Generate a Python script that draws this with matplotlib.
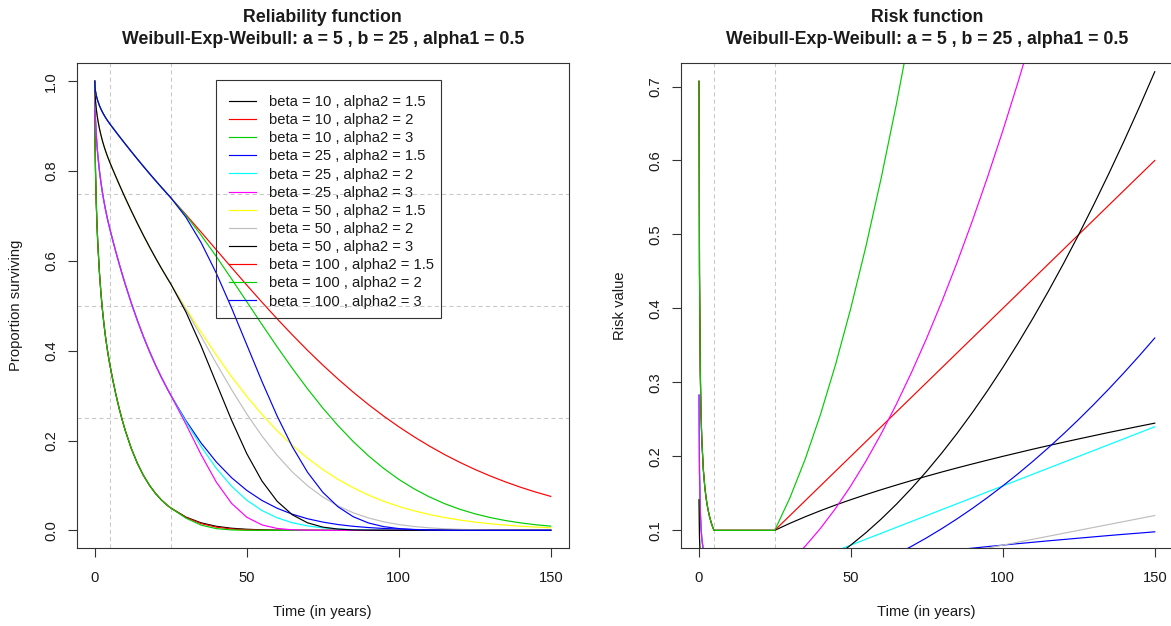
import matplotlib
matplotlib.use("Agg")
import matplotlib.pyplot as plt
from matplotlib.lines import Line2D
from matplotlib.patches import Rectangle

plt.rcParams['font.family'] = ['Liberation Sans', 'DejaVu Sans']

# ---------------------------------------------------------------- data
BETAS = [10, 25, 50, 100]
ALPHA2S = [1.5, 2, 3]
# R default palette (recycled after eight curves)
PALETTE = ["#000000", "#FF0000", "#00CD00", "#0000FF",
           "#00FFFF", "#FF00FF", "#FFFF00", "#BEBEBE"]

# time grids before b = 25 (shared by all alpha2 for a given beta)
T_SURV_EARLY = [0, 0.1, 0.25, 0.5, 0.75, 1, 1.5, 2, 2.5, 3, 3.5, 4, 4.5, 5,
                6, 7, 8, 9, 10, 12, 14, 16, 18, 20, 22, 24, 25]
T_RISK_EARLY = [0.1, 0.25, 0.5, 0.75, 1, 1.5, 2, 2.5, 3, 3.5, 4, 4.5, 5, 25]
# time grid from b = 25 on
T_LATE = [25, 30, 35, 40, 45, 50, 55, 60, 65, 70, 75, 80, 85, 90, 95, 100,
          105, 110, 115, 120, 125, 130, 135, 140, 145, 150]

# survival up to t = 25, one series per beta
SURV_EARLY = {
    10:  [1.0, 0.8681, 0.7996, 0.7289, 0.6789, 0.6394, 0.5783, 0.5313, 0.4931, 0.4609, 0.4332, 0.4088, 0.3873, 0.3679,
          0.3329, 0.3012, 0.2725, 0.2466, 0.2231, 0.1827, 0.1496, 0.1225, 0.1003, 0.0821, 0.0672, 0.0550, 0.0498],
    25:  [1.0, 0.9450, 0.9144, 0.8812, 0.8565, 0.8362, 0.8033, 0.7765, 0.7536, 0.7336, 0.7156, 0.6992, 0.6842, 0.6703,
          0.6440, 0.6188, 0.5945, 0.5712, 0.5488, 0.5066, 0.4677, 0.4317, 0.3985, 0.3679, 0.3396, 0.3135, 0.3012],
    50:  [1.0, 0.9721, 0.9563, 0.9387, 0.9255, 0.9144, 0.8962, 0.8812, 0.8681, 0.8565, 0.8459, 0.8362, 0.8272, 0.8187,
          0.8025, 0.7866, 0.7711, 0.7558, 0.7408, 0.7118, 0.6839, 0.6570, 0.6313, 0.6065, 0.5827, 0.5599, 0.5488],
    100: [1.0, 0.9860, 0.9779, 0.9689, 0.9620, 0.9563, 0.9467, 0.9387, 0.9317, 0.9255, 0.9197, 0.9144, 0.9095, 0.9048,
          0.8958, 0.8869, 0.8781, 0.8694, 0.8607, 0.8437, 0.8270, 0.8106, 0.7945, 0.7788, 0.7634, 0.7483, 0.7408],
}

# survival from t = 25 on, one series per (beta, alpha2)
SURV_LATE = {
    (10, 1.5):  [0.0498, 0.0295, 0.0167, 0.0090, 0.0047, 0.0024, 0.0012, 0.0005, 0.0002, 0.0001,
                 0, 0, 0, 0, 0, 0, 0, 0, 0, 0, 0, 0, 0, 0, 0, 0],
    (10, 2):    [0.0498, 0.0287, 0.0150, 0.0071, 0.0030, 0.0012, 0.0004, 0.0001,
                 0, 0, 0, 0, 0, 0, 0, 0, 0, 0, 0, 0, 0, 0, 0, 0, 0, 0],
    (10, 3):    [0.0498, 0.0271, 0.0116, 0.0038, 0.0009, 0.0001,
                 0, 0, 0, 0, 0, 0, 0, 0, 0, 0, 0, 0, 0, 0, 0, 0, 0, 0, 0, 0],
    (25, 1.5):  [0.3012, 0.2442, 0.1944, 0.1522, 0.1173, 0.0890, 0.0666, 0.0492, 0.0359, 0.0258, 0.0184, 0.0129, 0.0090,
                 0.0062, 0.0042, 0.0028, 0.0019, 0.0012, 0.0008, 0.0005, 0.0003, 0.0002, 0.0001, 0.0001, 0, 0],
    (25, 2):    [0.3012, 0.2417, 0.1864, 0.1381, 0.0983, 0.0672, 0.0442, 0.0279, 0.0169, 0.0099, 0.0055, 0.0030, 0.0015,
                 0.0008, 0.0004, 0.0002, 0.0001, 0, 0, 0, 0, 0, 0, 0, 0, 0],
    (25, 3):    [0.3012, 0.2363, 0.1684, 0.1073, 0.0602, 0.0292, 0.0121, 0.0042, 0.0012, 0.0003, 0.0001,
                 0, 0, 0, 0, 0, 0, 0, 0, 0, 0, 0, 0, 0, 0, 0],
    (50, 1.5):  [0.5488, 0.4942, 0.4410, 0.3901, 0.3424, 0.2984, 0.2581, 0.2218, 0.1894, 0.1607, 0.1355, 0.1136, 0.0948,
                 0.0786, 0.0648, 0.0532, 0.0435, 0.0353, 0.0286, 0.0230, 0.0184, 0.0147, 0.0117, 0.0092, 0.0073, 0.0057],
    (50, 2):    [0.5488, 0.4916, 0.4317, 0.3716, 0.3135, 0.2592, 0.2101, 0.1670, 0.1300, 0.0993, 0.0743, 0.0545, 0.0392,
                 0.0276, 0.0191, 0.0129, 0.0086, 0.0056, 0.0036, 0.0022, 0.0014, 0.0008, 0.0005, 0.0003, 0.0002, 0.0001],
    (50, 3):    [0.5488, 0.4861, 0.4104, 0.3276, 0.2453, 0.1709, 0.1099, 0.0647, 0.0346, 0.0167, 0.0072, 0.0028, 0.0009,
                 0.0003, 0.0001, 0, 0, 0, 0, 0, 0, 0, 0, 0, 0, 0],
    (100, 1.5): [0.7408, 0.7030, 0.6640, 0.6246, 0.5852, 0.5462, 0.5081, 0.4710, 0.4352, 0.4008, 0.3681, 0.3371, 0.3078,
                 0.2803, 0.2546, 0.2307, 0.2085, 0.1880, 0.1690, 0.1517, 0.1358, 0.1213, 0.1081, 0.0961, 0.0853, 0.0756],
    (100, 2):   [0.7408, 0.7012, 0.6571, 0.6096, 0.5599, 0.5092, 0.4584, 0.4086, 0.3606, 0.3151, 0.2725, 0.2334, 0.1979,
                 0.1661, 0.1381, 0.1136, 0.0926, 0.0747, 0.0596, 0.0471, 0.0369, 0.0286, 0.0219, 0.0167, 0.0125, 0.0093],
    (100, 3):   [0.7408, 0.6972, 0.6406, 0.5724, 0.4953, 0.4134, 0.3315, 0.2545, 0.1861, 0.1293, 0.0849, 0.0525, 0.0304,
                 0.0165, 0.0083, 0.0039, 0.0017, 0.0007, 0.0002, 0.0001, 0, 0, 0, 0, 0, 0],
}

# hazard up to t = 25, one series per beta
RISK_EARLY = {
    10:  [0.7071, 0.4472, 0.3162, 0.2582, 0.2236, 0.1826, 0.1581, 0.1414, 0.1291, 0.1195, 0.1118, 0.1054, 0.100, 0.100],
    25:  [0.2828, 0.1789, 0.1265, 0.1033, 0.0894, 0.0730, 0.0632, 0.0566, 0.0516, 0.0478, 0.0447, 0.0422, 0.040, 0.040],
    50:  [0.1414, 0.0894, 0.0632, 0.0516, 0.0447, 0.0365, 0.0316, 0.0283, 0.0258, 0.0239, 0.0224, 0.0211, 0.020, 0.020],
    100: [0.0707, 0.0447, 0.0316, 0.0258, 0.0224, 0.0183, 0.0158, 0.0141, 0.0129, 0.0120, 0.0112, 0.0105, 0.010, 0.010],
}

# hazard from t = 25 on, one series per (beta, alpha2)
RISK_LATE = {
    (10, 1.5):  [0.1000, 0.1095, 0.1183, 0.1265, 0.1342, 0.1414, 0.1483, 0.1549, 0.1612, 0.1673, 0.1732, 0.1789, 0.1844,
                 0.1897, 0.1949, 0.2000, 0.2049, 0.2098, 0.2145, 0.2191, 0.2236, 0.2280, 0.2324, 0.2366, 0.2408, 0.2449],
    (10, 2):    [0.10, 0.12, 0.14, 0.16, 0.18, 0.20, 0.22, 0.24, 0.26, 0.28, 0.30, 0.32, 0.34,
                 0.36, 0.38, 0.40, 0.42, 0.44, 0.46, 0.48, 0.50, 0.52, 0.54, 0.56, 0.58, 0.60],
    (10, 3):    [0.100, 0.144, 0.196, 0.256, 0.324, 0.400, 0.484, 0.576, 0.676, 0.784, 0.900, 1.024, 1.156,
                 1.296, 1.444, 1.600, 1.764, 1.936, 2.116, 2.304, 2.500, 2.704, 2.916, 3.136, 3.364, 3.600],
    (25, 1.5):  [0.0400, 0.0438, 0.0473, 0.0506, 0.0537, 0.0566, 0.0593, 0.0620, 0.0645, 0.0669, 0.0693, 0.0716, 0.0738,
                 0.0759, 0.0780, 0.0800, 0.0820, 0.0839, 0.0858, 0.0876, 0.0894, 0.0912, 0.0930, 0.0947, 0.0963, 0.0980],
    (25, 2):    [0.040, 0.048, 0.056, 0.064, 0.072, 0.080, 0.088, 0.096, 0.104, 0.112, 0.120, 0.128, 0.136,
                 0.144, 0.152, 0.160, 0.168, 0.176, 0.184, 0.192, 0.200, 0.208, 0.216, 0.224, 0.232, 0.240],
    (25, 3):    [0.0400, 0.0576, 0.0784, 0.1024, 0.1296, 0.1600, 0.1936, 0.2304, 0.2704, 0.3136, 0.3600, 0.4096, 0.4624,
                 0.5184, 0.5776, 0.6400, 0.7056, 0.7744, 0.8464, 0.9216, 1.0000, 1.0816, 1.1664, 1.2544, 1.3456, 1.4400],
    (50, 1.5):  [0.0200, 0.0219, 0.0237, 0.0253, 0.0268, 0.0283, 0.0297, 0.0310, 0.0322, 0.0335, 0.0346, 0.0358, 0.0369,
                 0.0379, 0.0390, 0.0400, 0.0410, 0.0420, 0.0429, 0.0438, 0.0447, 0.0456, 0.0465, 0.0473, 0.0482, 0.0490],
    (50, 2):    [0.020, 0.024, 0.028, 0.032, 0.036, 0.040, 0.044, 0.048, 0.052, 0.056, 0.060, 0.064, 0.068,
                 0.072, 0.076, 0.080, 0.084, 0.088, 0.092, 0.096, 0.100, 0.104, 0.108, 0.112, 0.116, 0.120],
    (50, 3):    [0.0200, 0.0288, 0.0392, 0.0512, 0.0648, 0.0800, 0.0968, 0.1152, 0.1352, 0.1568, 0.1800, 0.2048, 0.2312,
                 0.2592, 0.2888, 0.3200, 0.3528, 0.3872, 0.4232, 0.4608, 0.5000, 0.5408, 0.5832, 0.6272, 0.6728, 0.7200],
    (100, 1.5): [0.0100, 0.0110, 0.0118, 0.0126, 0.0134, 0.0141, 0.0148, 0.0155, 0.0161, 0.0167, 0.0173, 0.0179, 0.0184,
                 0.0190, 0.0195, 0.0200, 0.0205, 0.0210, 0.0214, 0.0219, 0.0224, 0.0228, 0.0232, 0.0237, 0.0241, 0.0245],
    (100, 2):   [0.010, 0.012, 0.014, 0.016, 0.018, 0.020, 0.022, 0.024, 0.026, 0.028, 0.030, 0.032, 0.034,
                 0.036, 0.038, 0.040, 0.042, 0.044, 0.046, 0.048, 0.050, 0.052, 0.054, 0.056, 0.058, 0.060],
    (100, 3):   [0.0100, 0.0144, 0.0196, 0.0256, 0.0324, 0.0400, 0.0484, 0.0576, 0.0676, 0.0784, 0.0900, 0.1024, 0.1156,
                 0.1296, 0.1444, 0.1600, 0.1764, 0.1936, 0.2116, 0.2304, 0.2500, 0.2704, 0.2916, 0.3136, 0.3364, 0.3600],
}

CHANGE_POINTS = [5, 25]
SURV_REF_LEVELS = [0.25, 0.5, 0.75]

X_TICKS = [0, 50, 100, 150]
SURV_TICKS = [0.0, 0.2, 0.4, 0.6, 0.8, 1.0]
RISK_TICKS = [0.1, 0.2, 0.3, 0.4, 0.5, 0.6, 0.7]

TITLE_SUB = "Weibull-Exp-Weibull: a = 5 , b = 25 , alpha1 = 0.5"

# ---------------------------------------------------------------- figure
W, H = 1171, 626
fig = plt.figure(figsize=(W / 100, H / 100), dpi=100)
FS = 10.65
TXT = "#1a1a1a"
LW = 0.85
GRID = dict(color="#c8c8c8", lw=0.75, dashes=(4, 3), zorder=0.5)


def axes_px(x0, y0, x1, y1):
    return fig.add_axes([x0 / W, 1 - y1 / H, (x1 - x0) / W, (y1 - y0) / H])


def style(ax, yticks, ylabels):
    ax.set_xticks(X_TICKS)
    ax.set_xticklabels([str(v) for v in X_TICKS])
    ax.set_yticks(yticks)
    ax.set_yticklabels(ylabels, rotation=90, va="center")
    ax.tick_params(axis="both", direction="out", length=6.2, width=0.8,
                   color="#333333", labelsize=FS, labelcolor=TXT)
    ax.tick_params(axis="x", pad=10.5)
    ax.tick_params(axis="y", pad=7)
    for sp in ax.spines.values():
        sp.set_color("#333333")
        sp.set_linewidth(0.8)


ax1 = axes_px(76.5, 63.3, 569, 548.3)
ax2 = axes_px(680.5, 63.3, 1173, 548.3)

curves = [(b, a) for b in BETAS for a in ALPHA2S]

# Reliability panel
handles, labels = [], []
for i, (b, a) in enumerate(curves):
    col = PALETTE[i % len(PALETTE)]
    t = T_SURV_EARLY + T_LATE[1:]
    s = SURV_EARLY[b] + SURV_LATE[(b, a)][1:]
    ax1.plot(t, s, color=col, lw=LW, zorder=2 + i * 0.01)
    handles.append(Line2D([], [], color=col, lw=LW))
    labels.append(f"beta = {b} , alpha2 = {a:g}")

for x in CHANGE_POINTS:
    ax1.axvline(x, **GRID)
for y in SURV_REF_LEVELS:
    ax1.axhline(y, **GRID)

ax1.set_xlim(-6, 156)
ax1.set_ylim(-0.04, 1.04)
style(ax1, SURV_TICKS, [f"{v:.1f}" for v in SURV_TICKS])

# legend entries (unfilled box drawn separately so the frame hugs the text)
leg = ax1.legend(handles, labels, loc="upper left",
                 bbox_to_anchor=(216 / W, 1 - 82.5 / H),
                 bbox_transform=fig.transFigure, borderaxespad=0,
                 fontsize=FS, frameon=False,
                 borderpad=0.85, handlelength=1.85, handletextpad=0.9,
                 labelspacing=0.28)
for txt in leg.get_texts():
    txt.set_color(TXT)
fig.patches.append(Rectangle((216 / W, 1 - 318 / H), (441 - 216) / W,
                             (318 - 80) / H, transform=fig.transFigure,
                             fill=False, edgecolor="#333333", lw=0.8,
                             zorder=5))

# Risk panel
for i, (b, a) in enumerate(curves):
    col = PALETTE[i % len(PALETTE)]
    t = T_RISK_EARLY + T_LATE[1:]
    h = RISK_EARLY[b] + RISK_LATE[(b, a)][1:]
    ax2.plot(t, h, color=col, lw=LW, zorder=2 + i * 0.01)

for x in CHANGE_POINTS:
    ax2.axvline(x, **GRID)

ax2.set_xlim(-6, 156)
ax2.set_ylim(0.0757, 0.7314)
style(ax2, RISK_TICKS, [f"{v:.1f}" for v in RISK_TICKS])

# Titles and axis labels
for cx, main in [(322.7, "Reliability function"), (926.7, "Risk function")]:
    fig.text(cx / W, 1 - 17 / H, main, ha="center", va="center",
             fontsize=12.8, fontweight="bold", color=TXT)
    fig.text(cx / W, 1 - 39 / H, TITLE_SUB, ha="center", va="center",
             fontsize=12.8, fontweight="bold", color=TXT)
    fig.text(cx / W, 1 - 612 / H, "Time (in years)", ha="center",
             va="center", fontsize=FS, color=TXT)

fig.text(16 / W, 1 - 305.8 / H, "Proportion surviving", rotation=90,
         ha="center", va="center", fontsize=FS, color=TXT)
fig.text(620 / W, 1 - 305.8 / H, "Risk value", rotation=90,
         ha="center", va="center", fontsize=FS, color=TXT)

fig.savefig("out.png", dpi=100)
